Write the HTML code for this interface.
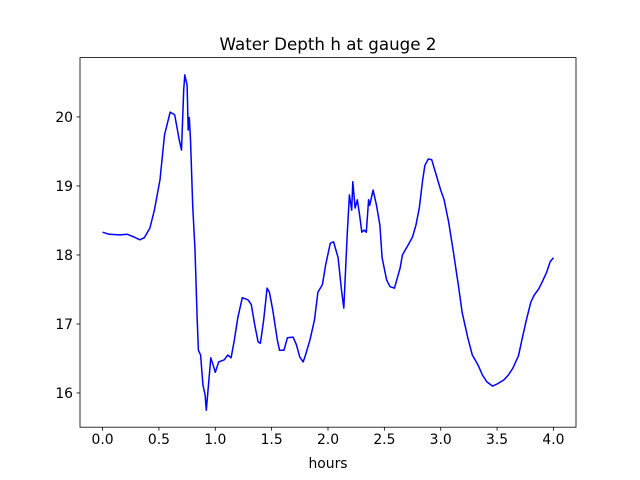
<!DOCTYPE html>
<html><head><meta charset="utf-8"><style>
body{margin:0;background:#fff;}
svg{display:block;font-family:"DejaVu Sans","Liberation Sans",sans-serif;}
</style></head><body>
<svg id="chart" width="640" height="480">
<rect x="0" y="0" width="640" height="480" fill="#fff"/>
<text x="328" y="50" text-anchor="middle" font-size="16.7">Water Depth h at gauge 2</text>
<text x="328" y="468" text-anchor="middle" font-size="13.9">hours</text>
<g id="plot"></g>
</svg>
<script>
const xs=[0,0.06,0.15,0.22,0.28,0.33,0.37,0.42,0.46,0.51,0.55,0.6,0.64,0.68,0.70,0.72,0.73,0.75,0.76,0.77,0.78,0.80,0.82,0.84,0.85,0.87,0.89,0.91,0.92,0.94,0.96,0.98,1.0,1.03,1.08,1.11,1.14,1.17,1.2,1.24,1.29,1.32,1.35,1.38,1.4,1.43,1.46,1.48,1.51,1.55,1.57,1.61,1.64,1.69,1.72,1.75,1.78,1.8,1.84,1.88,1.91,1.95,1.98,2.02,2.05,2.09,2.12,2.14,2.17,2.19,2.21,2.22,2.24,2.26,2.28,2.30,2.32,2.34,2.36,2.37,2.40,2.43,2.46,2.48,2.52,2.55,2.59,2.61,2.64,2.66,2.71,2.75,2.78,2.81,2.84,2.86,2.89,2.92,2.96,3.0,3.03,3.07,3.11,3.16,3.19,3.24,3.28,3.33,3.37,3.41,3.46,3.5,3.56,3.6,3.64,3.69,3.72,3.76,3.8,3.83,3.87,3.9,3.94,3.97,4.0];
const depth=[18.33,18.30,18.29,18.30,18.26,18.22,18.25,18.39,18.65,19.09,19.74,20.07,20.03,19.67,19.52,20.39,20.61,20.46,19.81,19.99,19.67,18.72,18.07,17.06,16.62,16.55,16.12,15.97,15.75,16.12,16.51,16.41,16.30,16.45,16.48,16.55,16.51,16.77,17.09,17.38,17.35,17.28,16.99,16.74,16.72,17.06,17.52,17.46,17.2,16.77,16.62,16.62,16.80,16.81,16.70,16.52,16.45,16.55,16.77,17.06,17.46,17.57,17.86,18.17,18.19,17.96,17.49,17.23,18.29,18.87,18.65,19.06,18.68,18.80,18.58,18.33,18.36,18.33,18.80,18.72,18.94,18.72,18.43,17.96,17.64,17.54,17.52,17.64,17.81,18.0,18.14,18.26,18.43,18.68,19.09,19.30,19.39,19.38,19.16,18.94,18.80,18.48,18.07,17.52,17.17,16.80,16.55,16.41,16.26,16.16,16.10,16.13,16.19,16.26,16.36,16.54,16.77,17.06,17.32,17.42,17.51,17.61,17.75,17.90,17.96];
const xTicks=[0,0.5,1,1.5,2,2.5,3,3.5,4];
const xTickLabels=["0.0","0.5","1.0","1.5","2.0","2.5","3.0","3.5","4.0"];
const yTicks=[16,17,18,19,20];
const yTickLabels=["16","17","18","19","20"];
const L=80,R=576,T=57.6,B=427.2;
const xMin=-0.2,xMax=4.2,yMin=15.504,yMax=20.86;
const sx=v=>L+(v-xMin)/(xMax-xMin)*(R-L);
const sy=v=>B-(v-yMin)/(yMax-yMin)*(B-T);
const NS="http://www.w3.org/2000/svg";
const g=document.getElementById('plot');
function mk(t,a,p){const e=document.createElementNS(NS,t);for(const k in a)e.setAttribute(k,a[k]);(p||g).appendChild(e);return e;}
xTicks.forEach((v,i)=>{
 const l=mk('line',{x1:sx(v),x2:sx(v),y1:B,y2:B+3.5,stroke:'#000','stroke-width':0.8});
 
 
 const t=mk('text',{x:sx(v),y:B+17,'text-anchor':'middle','font-size':13.9});
 t.textContent=xTickLabels[i];
 
 
});
yTicks.forEach((v,i)=>{
 const l=mk('line',{x1:L-3.5,x2:L,y1:sy(v),y2:sy(v),stroke:'#000','stroke-width':0.8});
 
 
 const t=mk('text',{x:L-7,y:sy(v)+5,'text-anchor':'end','font-size':13.9});
 t.textContent=yTickLabels[i];
 
 
});
const p=mk('polyline',{points:xs.map((x,i)=>sx(x).toFixed(1)+','+sy(depth[i]).toFixed(1)).join(' '),fill:'none',stroke:'#0000ff','stroke-width':1.5,'stroke-linejoin':'round'});


const f=mk('rect',{x:L,y:T,width:R-L,height:B-T,fill:'none',stroke:'#000','stroke-width':0.8});


</script>
</body></html>
